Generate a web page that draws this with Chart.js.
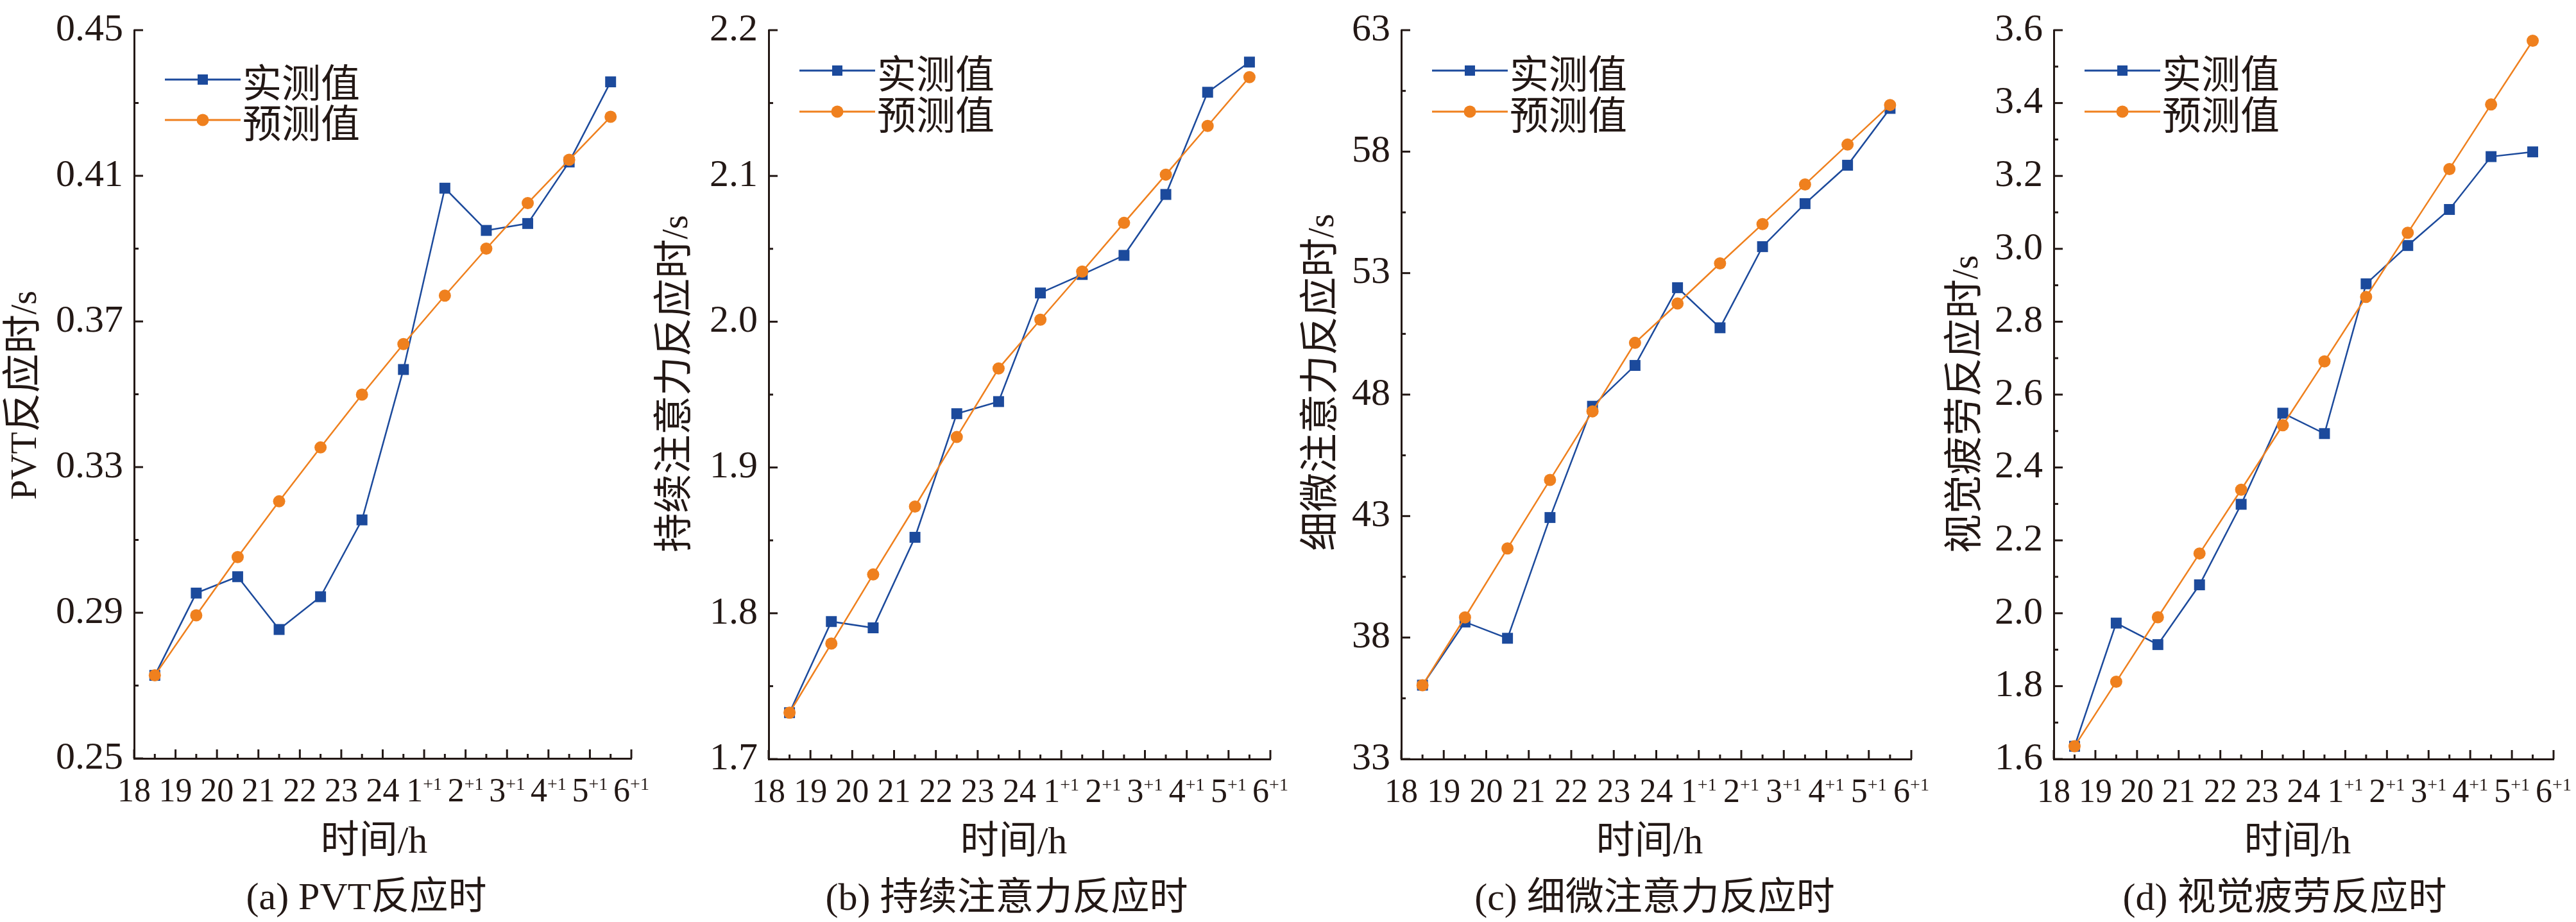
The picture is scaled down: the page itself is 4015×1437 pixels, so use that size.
<!DOCTYPE html>
<html>
<head>
<meta charset="utf-8">
<script src="https://cdn.jsdelivr.net/npm/chart.js@4.4.1/dist/chart.umd.min.js"></script>
<style>
  html, body { margin: 0; padding: 0; background: #fff; }
  #wrap { position: relative; width: 4015px; height: 1437px; overflow: hidden; }
  .panel { position: absolute; top: 0; height: 1437px; }
</style>
</head>
<body>
<div id="wrap">
  <div class="panel" style="left:0px;width:1100px"><canvas id="c0"></canvas></div>
  <div class="panel" style="left:1000px;width:1100px"><canvas id="c1"></canvas></div>
  <div class="panel" style="left:2000px;width:1100px"><canvas id="c2"></canvas></div>
  <div class="panel" style="left:3000px;width:1015px"><canvas id="c3"></canvas></div>
</div>
<script>
// ---- data ----
const xTickValues = [18, 19, 20, 21, 22, 23, 24, 25, 26, 27, 28, 29, 30];
const xTickText = ['18', '19', '20', '21', '22', '23', '24', '1', '2', '3', '4', '5', '6'];
const xTickSup = ['', '', '', '', '', '', '', '+1', '+1', '+1', '+1', '+1', '+1'];
const hours = [18.5, 19.5, 20.5, 21.5, 22.5, 23.5, 24.5, 25.5, 26.5, 27.5, 28.5, 29.5];

const seriesNames = ['实测值', '预测值'];
const xTitle = '时间/h';

// (a) PVT
const pvtMeasured  = [0.2728, 0.2954, 0.2999, 0.2854, 0.2944, 0.3155, 0.3568, 0.4066, 0.3950, 0.3969, 0.4138, 0.4358];
const pvtPredicted = [0.2728, 0.2893, 0.3053, 0.3206, 0.3354, 0.3499, 0.3638, 0.3771, 0.3900, 0.4025, 0.4144, 0.4262];
const pvtTicks  = [0.25, 0.29, 0.33, 0.37, 0.41, 0.45];
const pvtLabels = ['0.25', '0.29', '0.33', '0.37', '0.41', '0.45'];

// (b) sustained attention
const susMeasured  = [1.7318, 1.7943, 1.7900, 1.8521, 1.9369, 1.9452, 2.0197, 2.0324, 2.0455, 2.0873, 2.1574, 2.1781];
const susPredicted = [1.7318, 1.7792, 1.8266, 1.8732, 1.9209, 1.9679, 2.0014, 2.0344, 2.0678, 2.1009, 2.1343, 2.1678];
const susTicks  = [1.7, 1.8, 1.9, 2.0, 2.1, 2.2];
const susLabels = ['1.7', '1.8', '1.9', '2.0', '2.1', '2.2'];

// (c) fine attention
const fineMeasured  = [36.04, 38.64, 37.97, 42.94, 47.52, 49.20, 52.40, 50.75, 54.09, 55.86, 57.44, 59.78];
const finePredicted = [36.04, 38.83, 41.67, 44.49, 47.31, 50.13, 51.75, 53.40, 55.02, 56.65, 58.29, 59.92];
const fineTicks  = [33, 38, 43, 48, 53, 58, 63];
const fineLabels = ['33', '38', '43', '48', '53', '58', '63'];

// (d) visual fatigue
const visMeasured  = [1.635, 1.973, 1.914, 2.078, 2.299, 2.549, 2.493, 2.904, 3.009, 3.108, 3.253, 3.266];
const visPredicted = [1.635, 1.812, 1.989, 2.164, 2.339, 2.516, 2.691, 2.868, 3.044, 3.219, 3.396, 3.571];
const visTicks  = [1.6, 1.8, 2.0, 2.2, 2.4, 2.6, 2.8, 3.0, 3.2, 3.4, 3.6];
const visLabels = ['1.6', '1.8', '2.0', '2.2', '2.4', '2.6', '2.8', '3.0', '3.2', '3.4', '3.6'];

const yTitles  = ['PVT反应时/s', '持续注意力反应时/s', '细微注意力反应时/s', '视觉疲劳反应时/s'];
const captions = ['(a) PVT反应时', '(b) 持续注意力反应时', '(c) 细微注意力反应时', '(d) 视觉疲劳反应时'];

// ---- look ----
const INK = '#231815';
const BLUE = '#1c4a9c';
const ORANGE = '#ef801e';
const SERIF = "'Liberation Serif', 'Noto Sans CJK SC', serif";
const CJK = "'Noto Sans CJK SC', 'Liberation Serif', sans-serif";

// page positions (absolute px), plot = [left, right, top, bottom]
const panels = [
  { id: 'c0', left: 0,    width: 1100, plot: [209, 984, 43, 1182],   yTitle: [56, 616],   xTitleX: 583,  captionX: 571,  legendRows: [124, 187] },
  { id: 'c1', left: 1000, width: 1100, plot: [1198, 1980, 32, 1183], yTitle: [1071, 598], xTitleX: 1580, captionX: 1569, legendRows: [110, 174] },
  { id: 'c2', left: 2000, width: 1100, plot: [2184, 2979, 32, 1183], yTitle: [2078, 596], xTitleX: 2571, captionX: 2579, legendRows: [110, 174] },
  { id: 'c3', left: 3000, width: 1015, plot: [3201, 3980, 32, 1183], yTitle: [3082, 630], xTitleX: 3581, captionX: 3561, legendRows: [110, 174] },
];
const panelData = [
  [pvtMeasured, pvtPredicted, pvtTicks, pvtLabels],
  [susMeasured, susPredicted, susTicks, susLabels],
  [fineMeasured, finePredicted, fineTicks, fineLabels],
  [visMeasured, visPredicted, visTicks, visLabels],
];

// split text into CJK / latin runs so each gets its own size
function drawMixed(ctx, text, x, baseline, latinPx, cjkPx, align) {
  const parts = text.match(/[\u3000-\u9fff\uff00-\uffef]+|[^\u3000-\u9fff\uff00-\uffef]+/g);
  const fonts = parts.map(p => /[\u3000-\u9fff]/.test(p) ? cjkPx + 'px ' + CJK : latinPx + 'px ' + SERIF);
  const widths = parts.map((p, i) => { ctx.font = fonts[i]; return ctx.measureText(p).width; });
  const total = widths.reduce((s, w) => s + w, 0);
  let cx = align === 'center' ? x - total / 2 : x;
  ctx.textAlign = 'left';
  ctx.textBaseline = 'alphabetic';
  parts.forEach((p, i) => { ctx.font = fonts[i]; ctx.fillText(p, cx, baseline); cx += widths[i]; });
}

function seg(ctx, x1, y1, x2, y2) {
  ctx.beginPath(); ctx.moveTo(x1, y1); ctx.lineTo(x2, y2); ctx.stroke();
}

const decor = {
  id: 'decor',
  afterDraw(chart, args, o) {
    const { ctx, chartArea: a, scales: { x, y } } = chart;
    const yTicks = o.yTicks;
    ctx.save();
    ctx.strokeStyle = INK;
    ctx.fillStyle = INK;
    ctx.lineWidth = 3;

    // inward ticks, x
    xTickValues.forEach((v, k) => {
      const px = x.getPixelForValue(v);
      seg(ctx, px, a.bottom, px, a.bottom - 14);
      if (k < xTickValues.length - 1) {
        const mx = x.getPixelForValue((v + xTickValues[k + 1]) / 2);
        seg(ctx, mx, a.bottom, mx, a.bottom - 7);
      }
    });
    // inward ticks, y
    yTicks.forEach((v, k) => {
      const py = y.getPixelForValue(v);
      seg(ctx, a.left, py, a.left + 14, py);
      if (k < yTicks.length - 1) {
        const my = y.getPixelForValue((v + yTicks[k + 1]) / 2);
        seg(ctx, a.left, my, a.left + 7, my);
      }
    });

    // x tick labels with superscript
    ctx.textBaseline = 'alphabetic';
    ctx.textAlign = 'left';
    xTickValues.forEach((v, k) => {
      const px = x.getPixelForValue(v);
      ctx.font = '52px ' + SERIF;
      const w1 = ctx.measureText(xTickText[k]).width;
      ctx.font = '28px ' + SERIF;
      const w2 = xTickSup[k] ? ctx.measureText(xTickSup[k]).width : 0;
      const sx = px - (w1 + w2) / 2;
      ctx.font = '52px ' + SERIF;
      ctx.fillText(xTickText[k], sx, a.bottom + 67);
      if (w2) {
        ctx.font = '28px ' + SERIF;
        ctx.fillText(xTickSup[k], sx + w1, a.bottom + 49);
      }
    });

    // x title and caption
    drawMixed(ctx, xTitle, o.xTitleX, a.bottom + 147, 60, 60, 'center');
    drawMixed(ctx, o.caption, o.captionX, a.bottom + 235, 60, 60, 'center');

    // y title, rotated
    ctx.save();
    ctx.translate(o.yTitleX, o.yTitleY);
    ctx.rotate(-Math.PI / 2);
    drawMixed(ctx, o.yTitle, 0, 0, 56, 61, 'center');
    ctx.restore();

    // legend
    const marks = [
      { color: BLUE, shape: 'rect' },
      { color: ORANGE, shape: 'circle' },
    ];
    o.legendRows.forEach((ry, k) => {
      const m = marks[k];
      ctx.strokeStyle = m.color;
      ctx.fillStyle = m.color;
      ctx.lineWidth = 3;
      seg(ctx, a.left + 48, ry, a.left + 166, ry);
      if (m.shape === 'rect') {
        ctx.fillRect(a.left + 107 - 8, ry - 8, 16, 16);
      } else {
        ctx.beginPath(); ctx.arc(a.left + 107, ry, 9.5, 0, Math.PI * 2); ctx.fill();
      }
      ctx.fillStyle = INK;
      ctx.font = '61px ' + CJK;
      ctx.textAlign = 'left';
      ctx.textBaseline = 'alphabetic';
      ctx.fillText(seriesNames[k], a.left + 169, ry + 28);
    });
    ctx.restore();
  }
};

panels.forEach((p, i) => {
  const [measured, predicted, yTicks, yLabels] = panelData[i];
  const [pl, pr, pt, pb] = p.plot;
  new Chart(document.getElementById(p.id), {
    type: 'line',
    data: {
      datasets: [
        {
          label: seriesNames[0],
          data: hours.map((h, k) => ({ x: h, y: measured[k] })),
          borderColor: BLUE,
          backgroundColor: BLUE,
          borderWidth: 2.5,
          pointStyle: 'rect',
          pointRadius: 12,
          pointBorderWidth: 0,
          pointHoverRadius: 12,
          tension: 0,
          clip: false,
          order: 2,
        },
        {
          label: seriesNames[1],
          data: hours.map((h, k) => ({ x: h, y: predicted[k] })),
          borderColor: ORANGE,
          backgroundColor: ORANGE,
          borderWidth: 2.5,
          pointStyle: 'circle',
          pointRadius: 9.5,
          pointBorderWidth: 0,
          pointHoverRadius: 9.5,
          tension: 0,
          clip: false,
          order: 1,
        },
      ],
    },
    options: {
      responsive: true,
      maintainAspectRatio: false,
      animation: false,
      devicePixelRatio: 1,
      events: [],
      layout: { padding: { top: pt, right: p.width - (pr - p.left), left: 0, bottom: 0 } },
      plugins: {
        legend: { display: false },
        tooltip: { enabled: false },
        title: { display: false },
        decor: {
          yTicks: yTicks,
          yTitle: yTitles[i],
          caption: captions[i],
          yTitleX: p.yTitle[0] - p.left,
          yTitleY: p.yTitle[1],
          xTitleX: p.xTitleX - p.left,
          captionX: p.captionX - p.left,
          legendRows: p.legendRows,
        },
      },
      scales: {
        x: {
          type: 'linear',
          min: xTickValues[0],
          max: xTickValues[xTickValues.length - 1],
          grid: { display: false, drawTicks: false, tickLength: 0 },
          border: { display: true, width: 3, color: INK },
          ticks: { display: false },
          afterBuildTicks: s => { s.ticks = xTickValues.map(v => ({ value: v })); },
          afterFit: s => { s.height = 1437 - pb; },
        },
        y: {
          type: 'linear',
          min: yTicks[0],
          max: yTicks[yTicks.length - 1],
          grid: { display: false, drawTicks: false, tickLength: 0 },
          border: { display: true, width: 3, color: INK },
          ticks: {
            color: INK,
            padding: 17,
            font: { family: SERIF, size: 60, lineHeight: 1 },
            callback: (v, k) => yLabels[k],
          },
          afterBuildTicks: s => { s.ticks = yTicks.map(v => ({ value: v })); },
          afterFit: s => { s.width = pl - p.left; },
        },
      },
    },
    plugins: [decor],
  });
});
</script>
</body>
</html>
